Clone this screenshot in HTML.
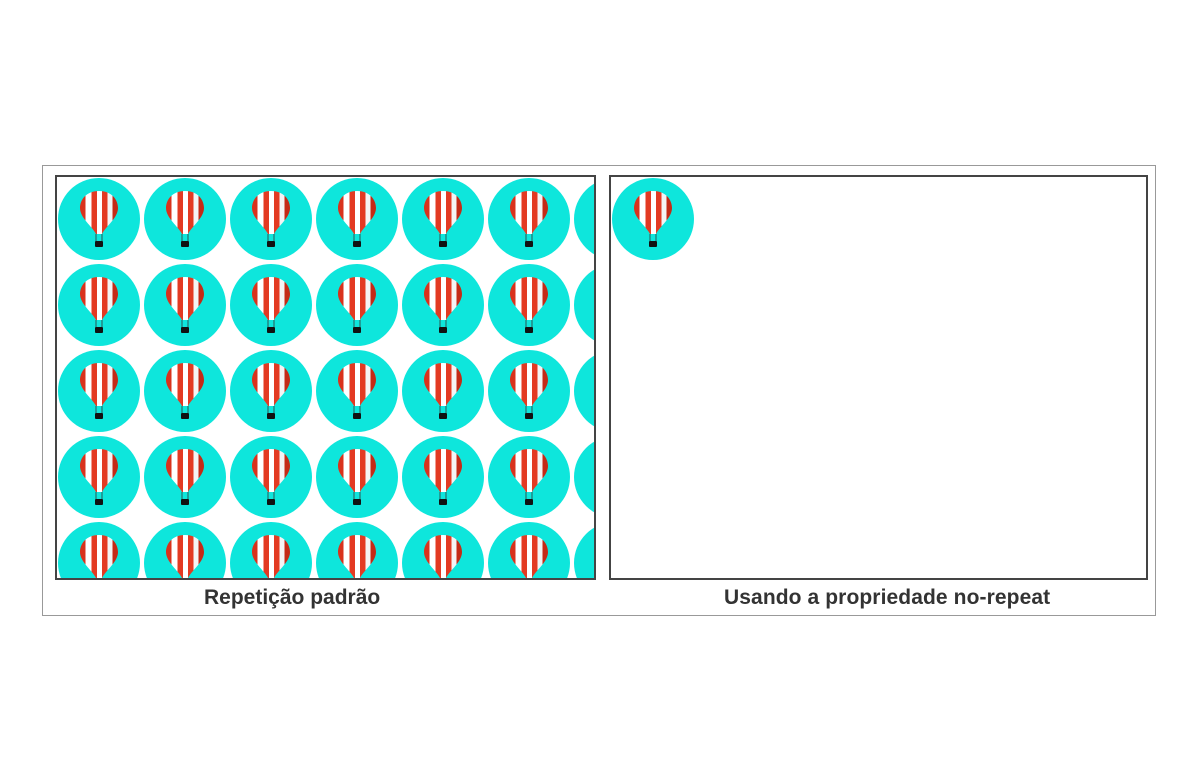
<!DOCTYPE html>
<html><head><meta charset="utf-8"><style>
body{margin:0;width:1200px;height:780px;background:#fff;position:relative;overflow:hidden;font-family:"Liberation Sans",sans-serif}
.outer{position:absolute;left:42px;top:165px;width:1112px;height:449px;border:1px solid #999}
.panel{position:absolute;top:175px;height:401px;border:2px solid #444;overflow:hidden}
.cap{position:absolute;top:586px;font-weight:bold;font-size:21px;color:#333;white-space:nowrap}
</style></head><body>
<div class="outer"></div>
<svg width="0" height="0" style="position:absolute"><defs>
<linearGradient id="stripes" x1="0" x2="1" y1="0" y2="0">
<stop offset="0" stop-color="#d9321c"/><stop offset="0.15" stop-color="#d9321c"/><stop offset="0.15" stop-color="#fff"/><stop offset="0.3" stop-color="#fff"/><stop offset="0.3" stop-color="#e33a22"/><stop offset="0.45" stop-color="#e33a22"/><stop offset="0.45" stop-color="#fff"/><stop offset="0.58" stop-color="#fff"/><stop offset="0.58" stop-color="#e33a22"/><stop offset="0.73" stop-color="#e33a22"/><stop offset="0.73" stop-color="#f4f4f4"/><stop offset="0.86" stop-color="#f4f4f4"/><stop offset="0.86" stop-color="#c42a16"/><stop offset="1" stop-color="#c42a16"/>
</linearGradient>
<g id="tile">
<circle cx="43" cy="43" r="41" fill="#0ee6dc"/>
<path d="M43 15 C30 15 24 24 24 32 C24 42 36 50 40 58 L46 58 C50 50 62 42 62 32 C62 24 56 15 43 15 Z" fill="url(#stripes)"/>
<line x1="40" y1="58" x2="40" y2="65" stroke="#333" stroke-width="0.8"/>
<line x1="46" y1="58" x2="46" y2="65" stroke="#333" stroke-width="0.8"/>
<rect x="39" y="65" width="8" height="6" rx="1" fill="#111"/>
</g>
<pattern id="pat" x="0" y="0" width="86" height="86" patternUnits="userSpaceOnUse"><use href="#tile"/></pattern>
</defs></svg>
<div class="panel" style="left:55px;width:537px">
<svg width="537" height="401"><rect x="0" y="0" width="540" height="404" fill="url(#pat)" transform="translate(-1,-1)"/></svg>
</div>
<div class="panel" style="left:609px;width:535px">
<svg width="535" height="401"><use href="#tile" x="-1" y="-1"/></svg>
</div>
<div class="cap" style="left:204px">Repetição padrão</div>
<div class="cap" style="left:724px;letter-spacing:0.1px">Usando a propriedade no-repeat</div>
</body></html>
